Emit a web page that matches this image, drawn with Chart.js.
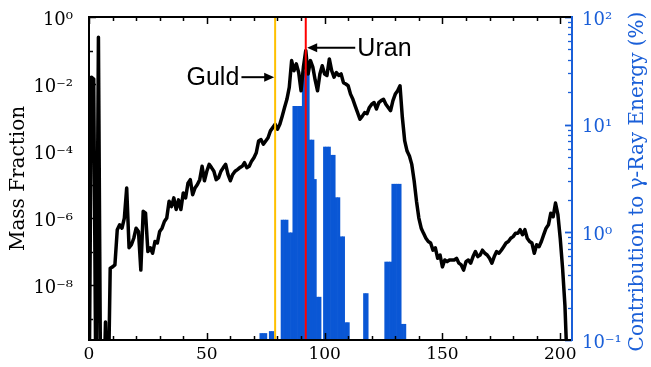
<!DOCTYPE html>
<html>
<head>
<meta charset="utf-8">
<script src="https://cdn.jsdelivr.net/npm/chart.js@4.4.1/dist/chart.umd.min.js"></script>
<style>
html,body{margin:0;padding:0;background:#ffffff;}
#wrap{width:651px;height:367px;}
</style>
</head>
<body>
<div id="wrap"><canvas id="c" width="651" height="367"></canvas></div>
<script>
// ---- data ----
const massNumbers = [
  0,1,2,3,4,5,6,7,8,9,10,11,12,13,14,15,16,17,18,19,20,21,22,23,24,25,26,27,28,29,
  30,31,32,33,34,35,36,37,38,39,40,41,42,43,44,45,46,47,48,49,50,51,52,53,54,55,56,57,58,59,
  60,61,62,63,64,65,66,67,68,69,70,71,72,73,74,75,76,77,78,79,80,81,82,83,84,85,86,87,88,89,
  90,91,92,93,94,95,96,97,98,99,100,101,102,103,104,105,106,107,108,109,110,111,112,113,114,115,116,117,118,119,
  120,121,122,123,124,125,126,127,128,129,130,131,132,133,134,135,136,137,138,139,140,141,142,143,144,145,146,147,148,149,
  150,151,152,153,154,155,156,157,158,159,160,161,162,163,164,165,166,167,168,169,170,171,172,173,174,175,176,177,178,179,
  180,181,182,183,184,185,186,187,188,189,190,191,192,193,194,195,196,197,198,199,200,201,202,203
];
const massFraction = [
  1e-12,1.6e-2,1.4e-2,1e-12,2.5e-1,1e-12,1e-12,7.9e-10,1e-12,3.2e-8,3.5e-8,4.0e-8,4.5e-7,6.3e-7,5.0e-7,1.0e-6,7.9e-6,1.3e-7,1.6e-7,2.5e-7,5.0e-7,4.0e-7,2.8e-8,1.6e-6,1.4e-6,1.0e-7,1.3e-7,8.9e-8,2.0e-7,1.8e-7,
  4.0e-7,5.0e-7,7.9e-7,1.0e-6,3.2e-6,2.2e-6,4.0e-6,1.8e-6,3.5e-6,1.8e-6,5.6e-6,4.0e-6,1.1e-5,1.4e-5,5.0e-6,7.9e-6,1.0e-5,1.4e-5,3.5e-5,1.3e-5,2.5e-5,4.0e-5,3.2e-5,2.5e-5,1.4e-5,1.6e-5,2.5e-5,3.2e-5,4.0e-5,2.0e-5,
  1.3e-5,2.0e-5,2.5e-5,2.8e-5,3.2e-5,3.5e-5,4.5e-5,3.2e-5,3.5e-5,5.0e-5,6.3e-5,8.9e-5,2.0e-4,2.2e-4,1.6e-4,2.0e-4,2.5e-4,4.0e-4,5.0e-4,6.3e-4,4.5e-4,6.3e-4,1.1e-3,2.0e-3,3.5e-3,7.9e-3,5.0e-2,2.5e-2,4.0e-2,2.2e-2,
  6.3e-3,3.2e-2,1.0e-1,2.0e-2,5.0e-2,3.2e-2,1.3e-2,6.3e-3,2.0e-2,3.5e-2,2.0e-2,1.8e-2,5.6e-2,2.5e-2,1.6e-2,2.2e-2,1.8e-2,2.0e-2,1.1e-2,1.0e-2,8.9e-3,5.0e-3,3.5e-3,2.2e-3,1.4e-3,8.9e-4,1.1e-3,1.4e-3,1.3e-3,2.0e-3,
  2.5e-3,2.8e-3,1.8e-3,2.8e-3,3.2e-3,3.5e-3,2.5e-3,2.0e-3,1.6e-3,3.2e-3,5.0e-3,6.3e-3,8.9e-3,1.0e-3,2.0e-4,1.0e-4,7.1e-5,4.0e-5,1.3e-5,3.2e-6,1.0e-6,5.0e-7,3.5e-7,2.5e-7,2.0e-7,1.8e-7,1.1e-7,1.3e-7,6.3e-8,7.9e-8,
  3.5e-8,5.6e-8,5.0e-8,5.6e-8,5.6e-8,5.6e-8,6.3e-8,4.5e-8,4.0e-8,2.8e-8,5.0e-8,5.6e-8,4.5e-8,7.1e-8,1.0e-7,7.1e-8,7.9e-8,1.1e-7,8.9e-8,7.9e-8,6.3e-8,4.5e-8,7.1e-8,1.0e-7,8.9e-8,1.1e-7,1.4e-7,1.8e-7,2.0e-7,2.5e-7,
  2.8e-7,3.5e-7,3.5e-7,4.5e-7,3.2e-7,4.5e-7,2.5e-7,2.0e-7,1.8e-7,8.9e-8,1.6e-7,1.4e-7,2.0e-7,3.2e-7,5.0e-7,6.3e-7,1.4e-6,1.1e-6,2.8e-6,1.3e-6,2.5e-7,3.2e-8,2.5e-9,3.2e-11
];
const gammaMassNumbers = [
  73,74,75,77,78,82,83,84,85,86,87,88,89,90,91,92,93,94,95,96,97,98,
  100,101,102,103,104,105,106,107,108,109,110,117,118,126,127,128,129,130,131,132,133,134
];
const gammaContribution = [
  0.115,0.115,0.115,0.12,0.12,1.3,1.3,1.3,0.99,0.99,14.8,14.8,14.8,14.8,31,31,31,7.2,7.2,3.1,0.25,0.25,
  6.2,6.2,6.2,5.2,5.2,2.1,2.1,0.91,0.91,0.145,0.145,0.27,0.27,0.53,0.53,0.53,2.8,2.8,2.8,2.8,0.14,0.14
];
const xTickValues = [0, 50, 100, 150, 200];
const leftTickExponents = [0, -2, -4, -6, -8];
const rightTickExponents = [-1, 0, 1, 2];
const markerNames = ['Guld', 'Uran'];
const markerMassNumbers = [79, 92];

// ---- styling ----
const BLUE = '#0a57d5';
const AXIS_BLUE = '#1a5fd8';
const Y_MIN = 2.3e-10, Y_MAX = 1;
const Y2_MIN = 0.1, Y2_MAX = 100;
const SERIF = '"DejaVu Serif", "Liberation Serif", serif';
const SANS = '"Liberation Sans", Arial, sans-serif';

const SUP = {'0':'\u2070','1':'\u00B9','2':'\u00B2','3':'\u00B3','4':'\u2074','5':'\u2075','6':'\u2076','7':'\u2077','8':'\u2078','9':'\u2079','-':'\u207B'};
const pow10Label = e => '10' + String(e).split('').map(c => SUP[c]).join('');

const annotations = [
  {text: markerNames[0], textX: 63.8, tailX: 64.7, tipX: 78.6, y: 0.016, align: 'right'},
  {text: markerNames[1], textX: 113.9, tailX: 113.0, tipX: 92.6, y: 0.12, align: 'left'}
];

function seg(ctx, x1, y1, x2, y2) {
  ctx.beginPath(); ctx.moveTo(x1, y1); ctx.lineTo(x2, y2); ctx.stroke();
}
function noPad(s) { s.paddingTop = 0; s.paddingBottom = 0; s.paddingLeft = 0; s.paddingRight = 0; }

const decor = {
  id: 'decor',
  afterDatasetsDraw(chart) {
    const {ctx, chartArea: a, scales} = chart;
    const x = scales.x, y = scales.y, y2 = scales.y2;
    ctx.save();
    ctx.lineCap = 'butt';
    ctx.strokeStyle = '#000'; ctx.lineWidth = 1.5;
    for (let v = 0; v <= 200; v += 10) {
      const px = Math.round(x.getPixelForValue(v)) + 0.5;
      const len = (v % 50 === 0) ? 7 : 4;
      seg(ctx, px, a.bottom, px, a.bottom - len);
      seg(ctx, px, a.top, px, a.top + len);
    }
    for (let e = -9; e <= 0; e++) {
      const py = Math.round(y.getPixelForValue(Math.pow(10, e))) + 0.5;
      const len = (e % 2 === 0) ? 7 : 4;
      seg(ctx, a.left, py, a.left + len, py);
    }
    ctx.strokeStyle = AXIS_BLUE;
    for (let e = -1; e <= 2; e++) {
      for (let m = 1; m <= 9; m++) {
        const v = m * Math.pow(10, e);
        if (v > Y2_MAX * 1.0001) break;
        const py = Math.round(y2.getPixelForValue(v)) + 0.5;
        const len = (m === 1) ? 7 : 4;
        ctx.lineWidth = (m === 1) ? 1.8 : 1.3;
        seg(ctx, a.right, py, a.right - len, py);
      }
    }
    ctx.lineWidth = 2;
    ctx.strokeStyle = '#000';
    ctx.beginPath();
    ctx.moveTo(a.right, a.top); ctx.lineTo(a.left, a.top); ctx.lineTo(a.left, a.bottom); ctx.lineTo(a.right, a.bottom);
    ctx.stroke();
    ctx.strokeStyle = AXIS_BLUE;
    seg(ctx, a.right, a.top - 1, a.right, a.bottom + 1);
    ctx.restore();
  },
  afterDraw(chart) {
    const {ctx, chartArea: a, scales} = chart;
    const x = scales.x, y = scales.y;
    ctx.save();
    ctx.fillStyle = AXIS_BLUE;
    ctx.font = '20px ' + SERIF;
    ctx.textAlign = 'center'; ctx.textBaseline = 'middle';
    ctx.translate(638, (a.top + a.bottom) / 2 + 3);
    ctx.rotate(-Math.PI / 2);
    ctx.fillText('Contribution to \u03B3-Ray Energy (%)', 0, 0);
    ctx.restore();

    ctx.save();
    ctx.strokeStyle = '#000'; ctx.fillStyle = '#000'; ctx.lineWidth = 2;
    ctx.font = '25px ' + SANS;
    ctx.textBaseline = 'middle';
    for (const an of annotations) {
      const py = y.getPixelForValue(an.y);
      const tx = x.getPixelForValue(an.textX);
      ctx.textAlign = an.align;
      ctx.fillText(an.text, tx, py + 1);
      const x1 = x.getPixelForValue(an.tailX), x2 = x.getPixelForValue(an.tipX);
      const dir = Math.sign(x2 - x1);
      const L = 10, W = 4.5;
      seg(ctx, x1, py, x2 - dir * L * 0.8, py);
      ctx.beginPath();
      ctx.moveTo(x2, py);
      ctx.lineTo(x2 - dir * L, py - W);
      ctx.lineTo(x2 - dir * L, py + W);
      ctx.closePath(); ctx.fill();
    }
    ctx.restore();
  }
};

const vline = A => [{x: A, y: Y_MIN}, {x: A, y: Y_MAX}];

new Chart(document.getElementById('c').getContext('2d'), {
  type: 'line',
  data: {
    datasets: [
      {type: 'line', label: markerNames[0], data: vline(markerMassNumbers[0]), borderColor: '#FFC000', borderWidth: 2,
       pointRadius: 0, yAxisID: 'y', order: 0, clip: 0},
      {type: 'line', label: markerNames[1], data: vline(markerMassNumbers[1]), borderColor: '#FF0000', borderWidth: 2,
       pointRadius: 0, yAxisID: 'y', order: 0, clip: 0},
      {type: 'line', label: 'Mass Fraction', data: massNumbers.map((A, i) => ({x: A, y: massFraction[i]})),
       borderColor: '#000', borderWidth: 3.5, pointRadius: 0, tension: 0, borderJoinStyle: 'round',
       yAxisID: 'y', order: 1, clip: 0},
      {type: 'bar', label: 'Contribution to \u03B3-Ray Energy (%)', data: gammaMassNumbers.map((A, i) => ({x: A, y: gammaContribution[i]})),
       backgroundColor: BLUE, borderWidth: 0, barPercentage: 1, categoryPercentage: 1,
       yAxisID: 'y2', order: 2}
    ]
  },
  options: {
    responsive: false, animation: false, devicePixelRatio: 1,
    layout: {padding: {top: 17, left: 0, right: 0, bottom: 0}},
    plugins: {legend: {display: false}, tooltip: {enabled: false}},
    scales: {
      x: {
        type: 'linear', position: 'bottom', min: 0, max: 205, offset: false,
        grid: {display: false, drawTicks: false}, border: {display: false},
        afterBuildTicks: s => { s.ticks = xTickValues.map(v => ({value: v})); },
        afterFit: s => { s.height = 27; noPad(s); },
        ticks: {font: {family: SERIF, size: 17}, color: '#000', padding: 4, maxRotation: 0, autoSkip: false,
                callback: v => String(v)}
      },
      y: {
        type: 'logarithmic', position: 'left', min: Y_MIN, max: Y_MAX,
        grid: {display: false, drawTicks: false}, border: {display: false},
        afterBuildTicks: s => { s.ticks = leftTickExponents.map(e => ({value: Math.pow(10, e)})); },
        afterFit: s => { s.width = 89; noPad(s); },
        ticks: {font: {family: SERIF, size: 18}, color: '#000', padding: 16, labelOffset: 3, autoSkip: false,
                callback: v => pow10Label(Math.round(Math.log10(v)))},
        title: {display: true, text: 'Mass Fraction', color: '#000', font: {family: SERIF, size: 20},
                padding: {top: 7, bottom: 0}}
      },
      y2: {
        type: 'logarithmic', position: 'right', min: Y2_MIN, max: Y2_MAX,
        grid: {display: false, drawTicks: false}, border: {display: false},
        afterBuildTicks: s => { s.ticks = rightTickExponents.map(e => ({value: Math.pow(10, e)})); },
        afterFit: s => { s.width = 79; noPad(s); },
        ticks: {font: {family: SERIF, size: 18}, color: AXIS_BLUE, padding: 10, labelOffset: 3, autoSkip: false,
                callback: v => pow10Label(Math.round(Math.log10(v)))}
      }
    }
  },
  plugins: [decor]
});
</script>
</body>
</html>
